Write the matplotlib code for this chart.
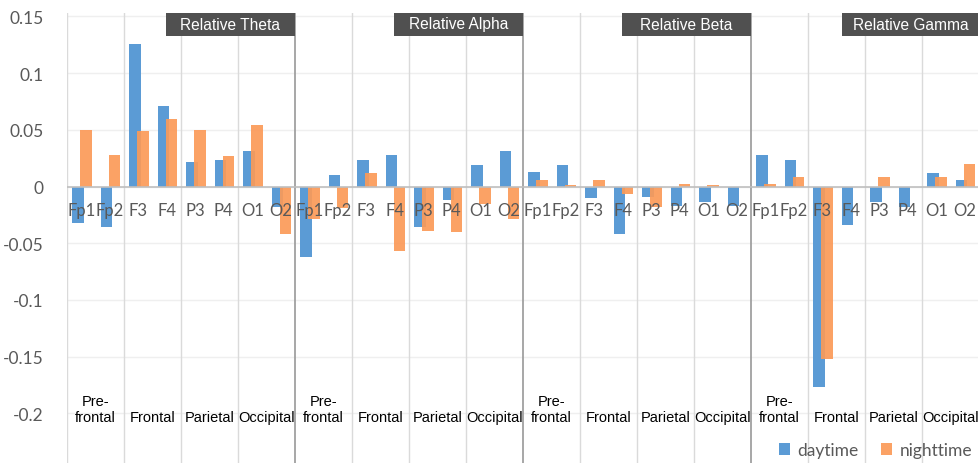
import numpy as np
import matplotlib.pyplot as plt
from matplotlib.patches import Rectangle

# electrodes / regions repeated for each band
electrodes = ['Fp1', 'Fp2', 'F3', 'F4', 'P3', 'P4', 'O1', 'O2']
regions = ['Pre-\nfrontal', 'Frontal', 'Parietal', 'Occipital']
bands = ['Relative Theta', 'Relative Alpha', 'Relative Beta', 'Relative Gamma']

theta_day = [-0.032, -0.036, 0.126, 0.071, 0.022, 0.023, 0.031, -0.018]
theta_night = [0.050, 0.028, 0.049, 0.060, 0.050, 0.027, 0.054, -0.042]
alpha_day = [-0.062, 0.010, 0.023, 0.028, -0.036, -0.012, 0.019, 0.031]
alpha_night = [-0.029, -0.019, 0.012, -0.057, -0.039, -0.040, -0.015, -0.029]
beta_day = [0.013, 0.019, -0.010, -0.042, -0.0095, -0.017, -0.0135, -0.017]
beta_night = [0.0055, 0.0015, 0.0055, -0.0065, -0.018, 0.0025, 0.0015, 0.0]
gamma_day = [0.028, 0.023, -0.177, -0.034, -0.014, -0.018, 0.012, 0.0055]
gamma_night = [0.0025, 0.008, -0.152, 0.0, 0.008, 0.0, 0.0085, 0.020]

yticks = [-0.2, -0.15, -0.1, -0.05, 0, 0.05, 0.1, 0.15]
ytick_labels = ['-0.2', '-0.15', '-0.1', '-0.05', '0', '0.05', '0.1', '0.15']

day = np.concatenate([theta_day, alpha_day, beta_day, gamma_day])
night = np.concatenate([theta_night, alpha_night, beta_night, gamma_night])
n = len(day)
x = np.arange(n) + 0.5

blue = '#5b9bd5'
orange = '#fb9a58'
gray_txt = '#595959'

fig = plt.figure(figsize=(9.79, 4.64), dpi=100)
ax = fig.add_axes([67 / 979, 0, 1 - 67 / 979, 1 - 13.5 / 464])
ax.set_xlim(0, n)
ax.set_ylim(-0.2438, 0.1535)

for s in ax.spines.values():
    s.set_visible(False)

# grid
for v in yticks:
    ax.axhline(v, color='#efefef', lw=1, zorder=0)
ax.axhline(0, color='#bfbfbf', lw=1.2, zorder=3)
for k in range(0, n + 1, 2):
    if k % 8 == 0 and 0 < k < n:
        ax.axvline(k, color='#a0a0a0', lw=1.3, zorder=1)
    else:
        ax.axvline(k, color='#dadada', lw=1, zorder=1)

b1 = ax.bar(x - 0.12, day, width=0.4, color=blue, zorder=2, label='daytime')
b2 = ax.bar(x + 0.17, night, width=0.4, color=orange, alpha=0.92, zorder=2,
            label='nighttime')

ax.set_xticks([])
ax.set_yticks(yticks)
ax.set_yticklabels(ytick_labels, fontsize=12.5, color=gray_txt, family='Lato')
ax.tick_params(axis='y', length=0, pad=17)

# electrode labels near zero line
for i in range(n):
    ax.text(x[i], -0.0205, electrodes[i % 8], ha='center', va='center',
            fontsize=12, color=gray_txt, family='Lato', zorder=5)

# region labels
for i in range(n // 2):
    ax.text(2 * i + 1, -0.209, regions[i % 4], ha='center', va='bottom',
            fontsize=10.5, color='black', family='Liberation Sans',
            linespacing=1.12, zorder=5)

# band title boxes
slot_px = (979 - 67) / n
box_h = 23 / 450.5
for b, name in enumerate(bands):
    end = 8 * (b + 1)
    w = (137 if b == 3 else 129) / slot_px
    ax.add_patch(Rectangle((end - w, 1 - box_h), w, box_h, facecolor='#505050',
                           edgecolor='none', transform=ax.get_xaxis_transform(),
                           clip_on=False, zorder=6))
    ax.text(end - w / 2, 1 - box_h / 2, name, ha='center', va='center',
            color='white', fontsize=11.2, family='Liberation Sans',
            transform=ax.get_xaxis_transform(), zorder=7)

leg = ax.legend(handles=[b1, b2], loc='lower right', bbox_to_anchor=(1.0, -0.004),
                ncol=2, frameon=False, handlelength=0.65,
                handleheight=0.65, handletextpad=0.4, columnspacing=1.3,
                borderaxespad=0.0, prop={'family': 'Lato', 'size': 12.5})
for t in leg.get_texts():
    t.set_color(gray_txt)

fig.savefig('out.png', dpi=100, facecolor='white')
